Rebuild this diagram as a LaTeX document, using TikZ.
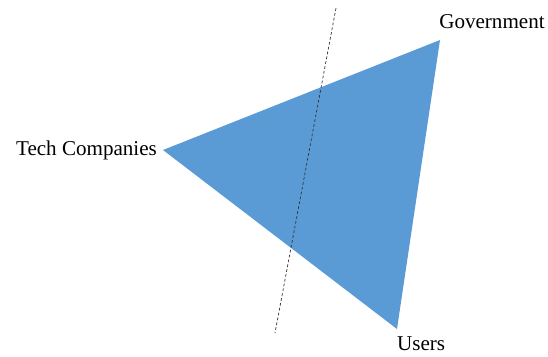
\documentclass[tikz,border=0pt]{standalone}
\usepackage{fontspec}
\setmainfont{Liberation Serif}
\definecolor{wedgeblue}{RGB}{91,155,213}
\begin{document}
\begin{tikzpicture}[x=0.02cm,y=-0.02cm,
    actor/.style={font=\fontsize{12}{14}\selectfont,inner sep=1pt},
    divide/.style={densely dashed,dash pattern=on 1.6pt off 1.2pt,gray!40!black,thin}]
\useasboundingbox (0,0) rectangle (548,356);
	% corners of the triangle
	\coordinate (tech) at (163,150);
	\coordinate (gov) at (440,40);
	\coordinate (users) at (397,329);
	\fill[wedgeblue] (tech) -- (gov) -- (users) -- cycle;
	% dividing line
	\coordinate (top) at (336,8);
	\coordinate (bottom) at (275,333);
	\draw[divide] (top) -- (bottom);
	% labels
	\node[actor,anchor=east] (techlabel) at (159,150) {Tech Companies};
	\node[actor] (govlabel) at (492,22) {Government};
	\node[actor,anchor=west] (userlabel) at (395,344) {Users};
\end{tikzpicture}
\end{document}
